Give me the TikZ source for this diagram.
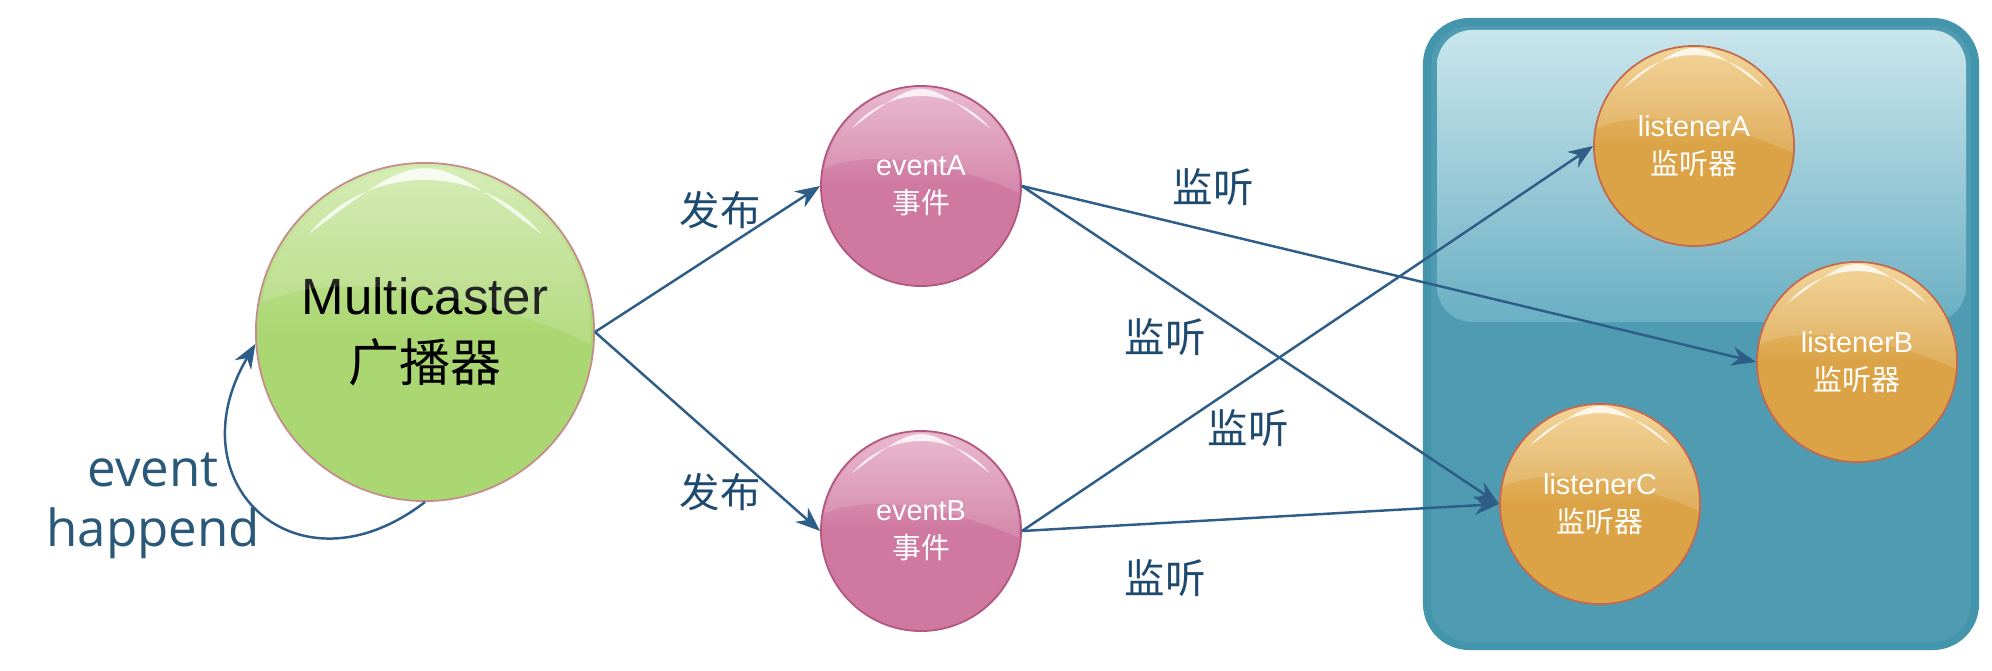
\documentclass[tikz,border=0pt]{standalone}
\usepackage{fontspec}
\setmainfont{Liberation Sans}
\newfontfamily\cjk{Noto Sans CJK SC}
\newfontfamily\opensans{Open Sans}
\usepackage{tikz}
\usetikzlibrary{arrows.meta,shadings}

\definecolor{arrblue}{HTML}{2E5E88}
\definecolor{lblblue}{HTML}{1F4A70}
\definecolor{evtxt}{HTML}{2A5878}
\definecolor{grnTop}{HTML}{D0EAAC}
\definecolor{grnBot}{HTML}{ABD772}
\definecolor{grnEdge}{HTML}{C58C8C}
\definecolor{pinkTop}{HTML}{E6B0C8}
\definecolor{pinkBot}{HTML}{CF78A0}
\definecolor{pinkEdge}{HTML}{B2577F}
\definecolor{orgTop}{HTML}{F1CE8A}
\definecolor{orgBot}{HTML}{DBA346}
\definecolor{orgEdge}{HTML}{C4684E}
\definecolor{panelEdge}{HTML}{4395AC}
\definecolor{panelFill}{HTML}{4F9CB2}
\definecolor{glossTop}{HTML}{C9E5EC}
\definecolor{glossBot}{HTML}{6AAFC3}

\tikzset{
	ball/.style={circle, draw=#1Edge, line width=0.5pt, top color=#1Top, bottom color=#1Bot,
		middle color=#1Bot, text=white, align=center, minimum size=2cm, inner sep=0pt,
		font=\fontsize{8.2}{10.8}\selectfont},
	lbl/.style={text=lblblue, font=\cjk\fontsize{11.5}{14}\selectfont},
}

% crescent highlight and soft upper glare on a ball
\newcommand{\shine}[2]{%
	\fill[white, opacity=.14, shift={(#1.center)}]
		(170:{0.98*#2}) arc[start angle=170, end angle=-4, radius={0.98*#2}]
		.. controls ({0.4*#2},{0.2*#2}) and ({-0.5*#2},{0.4*#2}) .. cycle;
	\fill[white, opacity=.8, shift={(#1.center)}]
		(140:{0.9*#2}) arc[start angle=140, end angle=40, radius={0.9*#2}]
		.. controls (0,{1.1*#2}) .. cycle;
}

\begin{document}
\begin{tikzpicture}[x=0.01cm, y=0.01cm, >={Stealth[length=7pt,width=5.4pt]}]
	\path[use as bounding box, fill=white] (0,0) rectangle (1992,-670);

	% listener panel
	\filldraw[draw=panelEdge, fill=panelFill, line width=2.3pt, rounded corners=12pt] (1427,-22) rectangle (1975,-646);
	\shade[top color=glossTop, bottom color=glossBot, rounded corners=10pt] (1437,-30) rectangle (1966,-322);

	\node[ball=grn, minimum size=3.38cm, text=black, font=\fontsize{14.5}{19}\selectfont] (mc) at (425,-332) {Multicaster\\{\cjk 广播器}};
	\node[ball=pink] (eA) at (921,-186) {eventA\\{\cjk 事件}};
	\node[ball=pink] (eB) at (921,-531) {eventB\\{\cjk 事件}};
	\node[ball=org] (lA) at (1694,-146) {listenerA\\{\cjk 监听器}};
	\node[ball=org] (lB) at (1857,-362) {listenerB\\{\cjk 监听器}};
	\node[ball=org] (lC) at (1600,-504) {listenerC\\{\cjk 监听器}};
	\shine{mc}{169}
	\shine{eA}{100}
	\shine{eB}{100}
	\shine{lA}{101}
	\shine{lB}{101}
	\shine{lC}{101}

	\begin{scope}[draw=arrblue, line width=0.7pt]
		\draw[->] (mc.south) .. controls +(-127,-98) and +(-83,-140) .. (mc.184);
		\draw[->] (mc.east) -- (eA.west);
		\draw[->] (mc.east) -- (eB.west);
		\draw[->] (eA.east) -- (lB.west);
		\draw[->] (eA.east) -- (lC.west);
		\draw[->] (eB.east) -- (lA.west);
		\draw[->] (eB.east) -- (lC.west);
	\end{scope}

	\node[align=center, text=evtxt, font=\opensans\fontsize{14.5}{17}\selectfont] (happ) at (153,-506) {event\\happend};
	\node[lbl] (pubA) at (720,-210) {发布};
	\node[lbl] (pubB) at (720,-492) {发布};
	\node[lbl] (lsn1) at (1213,-187) {监听};
	\node[lbl] (lsn2) at (1165,-337) {监听};
	\node[lbl] (lsn3) at (1248,-428) {监听};
	\node[lbl] (lsn4) at (1165,-578) {监听};
\end{tikzpicture}
\end{document}
